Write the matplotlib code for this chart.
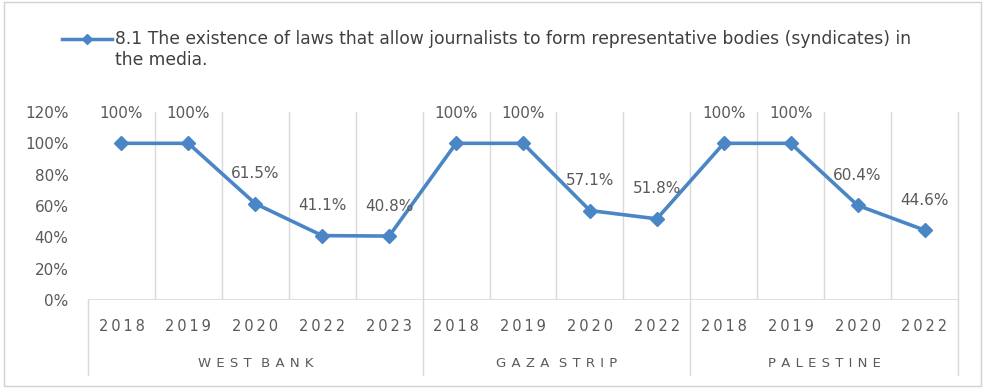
import matplotlib
matplotlib.use("Agg")
import matplotlib.pyplot as plt
from matplotlib.transforms import blended_transform_factory
from matplotlib.lines import Line2D
from matplotlib.patches import Rectangle

# data
groups = ["WEST BANK", "GAZA STRIP", "PALESTINE"]
years_wb = ["2018", "2019", "2020", "2022", "2023"]
years_gz = ["2018", "2019", "2020", "2022"]
years_ps = ["2018", "2019", "2020", "2022"]
values_wb = [100, 100, 61.5, 41.1, 40.8]
values_gz = [100, 100, 57.1, 51.8]
values_ps = [100, 100, 60.4, 44.6]
labels_wb = ["100%", "100%", "61.5%", "41.1%", "40.8%"]
labels_gz = ["100%", "100%", "57.1%", "51.8%"]
labels_ps = ["100%", "100%", "60.4%", "44.6%"]
series_name = ("8.1 The existence of laws that allow journalists to form representative bodies (syndicates) in\n"
               "the media.")

LINE = "#4a86c6"
TXT = "#595959"
GRID = "#d9d9d9"
FONT = "DejaVu Sans"


def spaced(s, sep="\u2009"):
    return sep.join(s)


years = years_wb + years_gz + years_ps
values = [v / 100 for v in values_wb + values_gz + values_ps]
labels = labels_wb + labels_gz + labels_ps
group_sizes = [len(years_wb), len(years_gz), len(years_ps)]
x = list(range(len(years)))

fig = plt.figure(figsize=(9.85, 3.88), dpi=100)
fig.patches.append(Rectangle((0.004, 0.006), 0.992, 0.99, transform=fig.transFigure,
                             fill=False, edgecolor="#d0d0d0", linewidth=1.0))
ax = fig.add_axes([88 / 985, 1 - 300 / 388, 870 / 985, 188 / 388])
ax.set_xlim(-0.5, len(years) - 0.5)
ax.set_ylim(0, 1.2)
for s in ax.spines.values():
    s.set_visible(False)

# vertical grid between categories
for k in range(1, len(years)):
    ax.axvline(k - 0.5, color=GRID, linewidth=1.0, zorder=1)
ax.axhline(0, color=GRID, linewidth=1.2, zorder=1)

# group separators reaching down under the year labels
trans = blended_transform_factory(ax.transData, ax.transAxes)
bounds = [-0.5]
for n in group_sizes:
    bounds.append(bounds[-1] + n)
for b in bounds:
    ax.add_line(Line2D([b, b], [-0.4, 0.0], transform=trans, color=GRID,
                       linewidth=1.0, clip_on=False))
ax.add_line(Line2D([bounds[-1], bounds[-1]], [0, 1.0], transform=trans,
                   color=GRID, linewidth=1.0, clip_on=False))
for i, g in enumerate(groups):
    mid = (bounds[i] + bounds[i + 1]) / 2
    txt = "\u2009 \u2009".join(spaced(w, "\u2009\u2009") for w in g.split())
    ax.text(mid, -0.34, txt, transform=trans, ha="center",
            va="center", fontsize=9.5, color=TXT, family=FONT)

ax.plot(x, values, color=LINE, linewidth=2.6, marker="D", markersize=7, zorder=3)
for xi, v, lab in zip(x, values, labels):
    ax.annotate(lab, (xi, v), xytext=(0, 30), textcoords="offset pixels",
                ha="center", va="center", fontsize=11, color=TXT, family=FONT,
                zorder=4)

ax.set_xticks(x)
ax.set_xticklabels([spaced(y) for y in years], family=FONT, fontsize=10.5, color=TXT)
ax.tick_params(axis="x", length=0, pad=14)
ax.set_yticks([0, 0.2, 0.4, 0.6, 0.8, 1.0, 1.2])
ax.set_yticklabels(["0%", "20%", "40%", "60%", "80%", "100%", "120%"],
                   family=FONT, fontsize=11, color=TXT)
ax.tick_params(axis="y", length=0, pad=14)

# legend
ly = 1 - 39 / 388
fig.add_artist(Line2D([62 / 985, 112 / 985], [ly, ly], color=LINE,
                      linewidth=2.5, transform=fig.transFigure))
fig.add_artist(Line2D([87 / 985], [ly], color=LINE, marker="D",
                      markersize=5, transform=fig.transFigure))
fig.text(115 / 985, 1 - 30 / 388, series_name, ha="left", va="top", fontsize=12.3,
         color="#404040", family=FONT, linespacing=1.2)

fig.savefig("out.png", dpi=100, facecolor="white")
